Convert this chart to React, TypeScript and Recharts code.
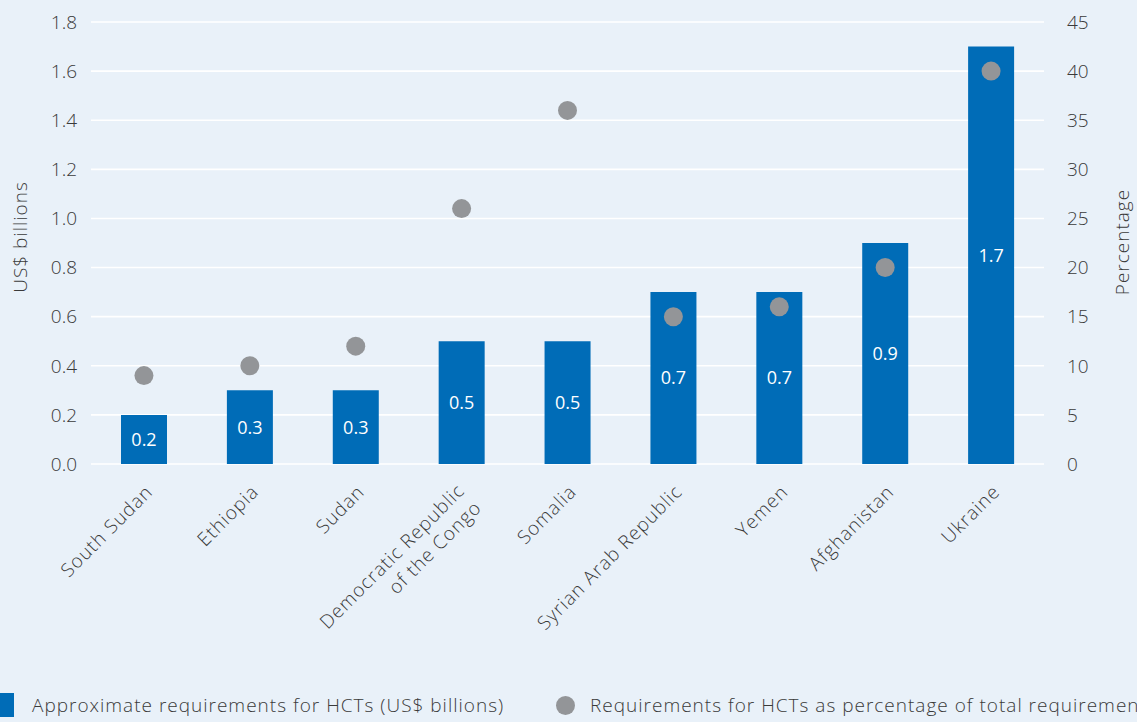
import React from 'react';
import {
  ComposedChart,
  Bar,
  Line,
  XAxis,
  YAxis,
  CartesianGrid,
  LabelList,
} from 'recharts';

// ── data ─────────────────────────────────────────────────────────────────────

const COUNTRIES = [
  'South Sudan',
  'Ethiopia',
  'Sudan',
  'Democratic Republic\nof the Congo',
  'Somalia',
  'Syrian Arab Republic',
  'Yemen',
  'Afghanistan',
  'Ukraine',
];
const REQUIREMENTS_BN = [0.2, 0.3, 0.3, 0.5, 0.5, 0.7, 0.7, 0.9, 1.7];
const SHARE_PCT = [9, 10, 12, 26, 36, 15, 16, 20, 40];
const LEFT_TICKS = [0, 0.2, 0.4, 0.6, 0.8, 1.0, 1.2, 1.4, 1.6, 1.8];
const RIGHT_TICKS = [0, 5, 10, 15, 20, 25, 30, 35, 40, 45];

const data = COUNTRIES.map((name, i) => ({
  name,
  req: REQUIREMENTS_BN[i],
  pct: SHARE_PCT[i],
}));

// ── style ────────────────────────────────────────────────────────────────────

const BG = '#e9f1f9';
const BLUE = '#006cb7';
const GREY = '#939598';
const TEXT = '#3a3a3a';
const FONT = '"Open Sans", Roboto, sans-serif';
const FW = 300;
const FS = 19;
const LS = 1; // the original face is a bit wider than Open Sans

function CountryTick({ x, y, payload }: any) {
  const lines = String(payload.value).split('\n');
  const multi = lines.length > 1;
  const ox = multi ? 4 : 10;
  const oy = multi ? 28 : 29;
  return (
    <g transform={`translate(${x + ox},${y + oy})`}>
      {lines.map((ln, i) => (
        <text
          key={i}
          x={i * 17}
          y={i * 17}
          transform={`rotate(-45 ${i * 17} ${i * 17})`}
          textAnchor="end"
          fontSize={FS}
          fontFamily={FONT}
          fontWeight={FW}
          letterSpacing={LS}
          fill={TEXT}
        >
          {ln}
        </text>
      ))}
    </g>
  );
}

function Dot({ cx, cy }: any) {
  if (cx == null || cy == null) return null;
  return <circle cx={cx} cy={cy} r={9.5} fill={GREY} />;
}

const axisTitle: React.CSSProperties = {
  position: 'absolute',
  transform: 'translate(-50%, -50%) rotate(-90deg)',
  fontSize: FS,
  fontFamily: FONT,
  fontWeight: FW,
  letterSpacing: LS,
  color: TEXT,
  whiteSpace: 'nowrap',
};

const legendText: React.CSSProperties = {
  position: 'absolute',
  top: 705,
  transform: 'translateY(-50%)',
  fontSize: FS,
  fontFamily: FONT,
  fontWeight: FW,
  letterSpacing: LS,
  color: TEXT,
  whiteSpace: 'nowrap',
};

export default function App() {
  return (
    <div
      style={{
        position: 'absolute',
        left: 0,
        top: 0,
        width: 1137,
        height: 722,
        overflow: 'hidden',
        background: BG,
      }}
    >
      <ComposedChart
        width={1137}
        height={722}
        data={data}
        margin={{ top: 22, right: 0, bottom: 0, left: 0 }}
        barCategoryGap={0}
      >
        <CartesianGrid yAxisId="left" vertical={false} stroke="#ffffff" strokeWidth={1.6} />
        <XAxis
          dataKey="name"
          height={258}
          tickLine={false}
          axisLine={false}
          tickSize={0}
          tickMargin={0}
          interval={0}
          tick={<CountryTick />}
        />
        <YAxis
          yAxisId="left"
          width={91}
          domain={[0, 1.8]}
          ticks={LEFT_TICKS}
          tickFormatter={(v: number) => v.toFixed(1)}
          tickLine={false}
          axisLine={false}
          tickSize={0}
          tickMargin={14}
          tick={{ fontSize: FS, fill: TEXT, fontFamily: FONT, fontWeight: FW }}
        />
        <YAxis
          yAxisId="right"
          orientation="right"
          width={93}
          domain={[0, 45]}
          ticks={RIGHT_TICKS}
          tickLine={false}
          axisLine={false}
          tickSize={0}
          tickMargin={23}
          tick={{ fontSize: FS, fill: TEXT, fontFamily: FONT, fontWeight: FW, textAnchor: 'start' }}
        />
        <Bar yAxisId="left" dataKey="req" fill={BLUE} barSize={46} isAnimationActive={false}>
          <LabelList
            dataKey="req"
            position="center"
            fill="#ffffff"
            fontSize={18}
            fontFamily={FONT}
            formatter={(v: any) => Number(v).toFixed(1)}
          />
        </Bar>
        <Line
          yAxisId="right"
          dataKey="pct"
          stroke="none"
          dot={<Dot />}
          activeDot={false}
          isAnimationActive={false}
        />
      </ComposedChart>

      <div style={{ ...axisTitle, left: 20, top: 237 }}>US$ billions</div>
      <div style={{ ...axisTitle, left: 1122, top: 242 }}>Percentage</div>

      <div style={{ position: 'absolute', left: -10, top: 693, width: 24, height: 24, background: BLUE }} />
      <div style={{ ...legendText, left: 32 }}>Approximate requirements for HCTs (US$ billions)</div>
      <div
        style={{
          position: 'absolute',
          left: 556,
          top: 696,
          width: 19,
          height: 19,
          borderRadius: '50%',
          background: GREY,
        }}
      />
      <div style={{ ...legendText, left: 590 }}>Requirements for HCTs as percentage of total requirements</div>
    </div>
  );
}
